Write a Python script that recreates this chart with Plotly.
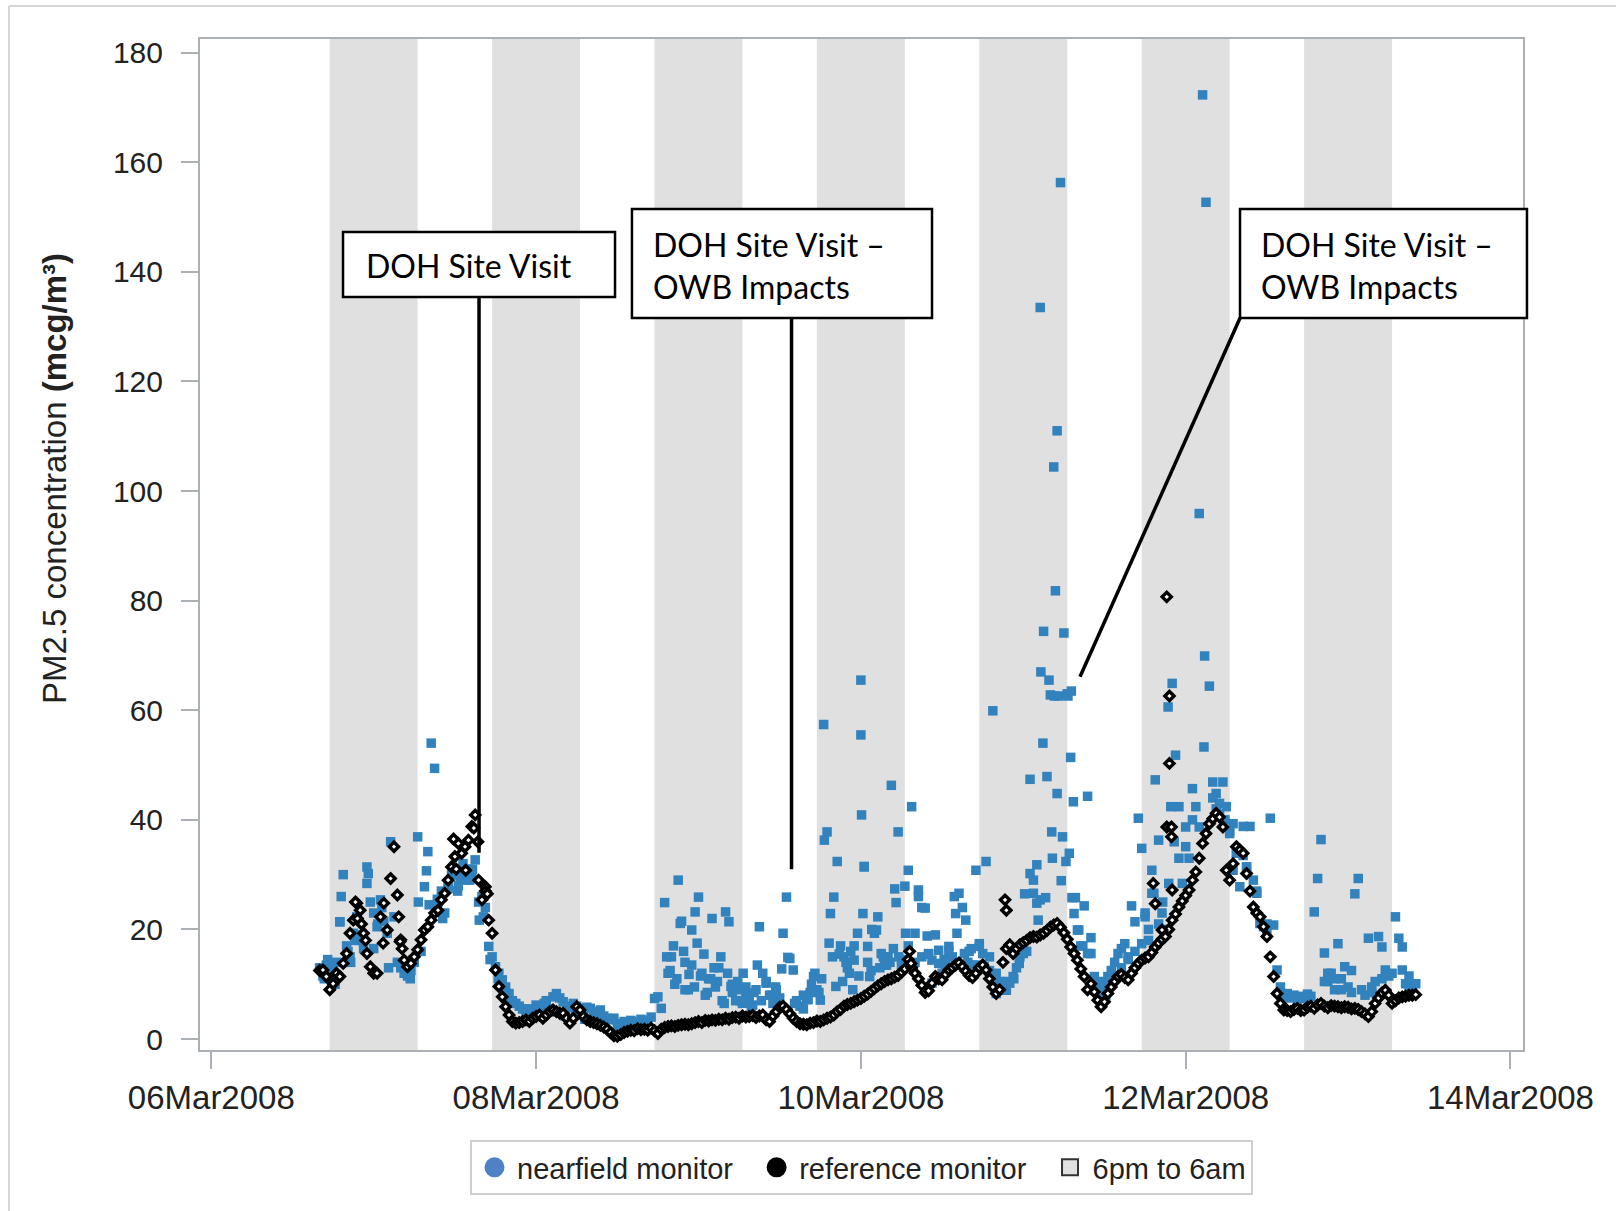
import plotly.graph_objects as go
import pandas as pd

# ---------------- data ----------------
series_start = "2008-03-06 16:00"
step_minutes = 30

# reference monitor PM2.5 (mcg/m3), every 30 minutes from 06Mar2008 16:00
reference_pm25 = [
    12.5, 12.6, 11.4, 9.0, 10.1, 12.0, 11.4, 13.8, 15.6, 19.3,
    21.7, 24.8, 23.5, 19.3, 15.6, 13.2, 12.0, 12.0, 22.3, 24.8,
    19.9, 29.3, 35.1, 26.3, 18.1, 14.4, 13.2, 13.8, 15.0, 16.3,
    18.1, 19.9, 20.5, 21.7, 23.0, 23.5, 25.4, 26.6, 29.0, 31.4,
    33.3, 35.7, 33.9, 35.1, 36.3, 38.8, 40.9, 29.0, 25.4, 27.8,
    21.7, 19.3, 12.6, 9.6, 7.7, 5.9, 4.4, 3.2, 2.9, 3.0,
    3.2, 3.5, 3.2, 3.8, 4.1, 4.4, 3.8, 4.4, 5.0, 5.3,
    5.0, 4.7, 4.7, 3.8, 2.9, 3.8, 5.9, 5.3, 4.1, 3.5,
    3.2, 3.0, 2.8, 2.5, 2.2, 1.8, 1.2, 0.6, 0.5, 0.8,
    1.2, 1.4, 1.6, 1.5, 1.9, 1.7, 1.8, 1.6, 2.0, 1.5,
    1.0, 1.8, 2.1, 2.3, 2.4, 2.3, 2.5, 2.6, 2.7, 2.6,
    2.8, 3.0, 3.2, 3.0, 3.4, 3.3, 3.5, 3.4, 3.6, 3.5,
    3.8, 3.6, 3.9, 4.0, 3.8, 4.2, 4.0, 4.1, 4.3, 3.9,
    4.2, 4.4, 3.5, 3.2, 4.2, 5.0, 5.8, 6.0, 5.4, 4.6,
    3.8, 3.2, 2.8, 2.7, 2.6, 2.9, 3.0, 3.3, 3.2, 3.5,
    3.8, 4.0, 4.4, 5.0, 5.4, 6.0, 6.3, 6.5, 6.8, 7.1,
    7.4, 7.8, 8.2, 8.7, 9.2, 9.7, 10.1, 10.5, 10.8, 11.0,
    11.3, 11.6, 12.2, 12.8, 14.5, 13.0, 12.0, 11.0, 9.8, 8.5,
    8.8, 10.2, 11.4, 11.0, 10.8, 11.8, 12.6, 13.0, 13.5, 13.9,
    13.2, 12.4, 11.6, 11.2, 12.0, 13.0, 13.5, 12.6, 11.0, 9.5,
    8.3, 9.0, 14.0, 16.5, 17.2, 15.6, 16.5, 17.2, 17.6, 18.0,
    18.5, 18.7, 18.6, 19.0, 19.3, 19.8, 20.4, 20.8, 21.1, 20.4,
    19.4, 18.2, 16.8, 15.6, 14.4, 12.8, 11.4, 9.0, 10.1, 8.6,
    7.1, 5.9, 6.8, 8.3, 9.5, 10.5, 11.4, 11.8, 11.2, 10.8,
    12.0, 13.0, 13.8, 14.4, 14.8, 15.0, 15.8, 16.8, 17.5, 18.2,
    18.7, 20.0, 21.7, 22.8, 24.1, 25.2, 26.2, 27.2, 29.0, 30.5,
    33.0, 35.7, 37.5, 39.3, 40.2, 41.2, 40.5, 38.7, 30.8, 29.0,
    32.0, 35.1, 34.5, 33.9, 30.2, 27.0, 24.1, 23.0, 22.3, 20.5,
    18.7, 15.0, 11.4, 8.3, 6.5, 5.3, 5.2, 5.0, 5.4, 5.6,
    5.2, 5.3, 5.8, 6.0, 5.6, 6.2, 6.5, 6.0, 5.7, 6.1,
    6.0, 5.9, 5.7, 5.9, 5.8, 5.5, 5.6, 5.4, 5.0, 4.6,
    4.1, 5.0, 6.5, 7.5, 8.4, 8.9, 8.0, 6.5, 7.0, 7.5,
    7.7, 7.8, 8.0, 8.0, 8.1,
]

# nearfield monitor PM2.5 (mcg/m3), same 30-minute grid
nearfield_pm25 = [
    13, 11.5, 13.5, 12, 10.5, 14, 21.4, 30, 17, 15,
    19.3, 22.3, 18, 16.5, 31.4, 25, 23, 20.5, 25.4, 21.5,
    19.3, 36, 22.3, 14, 13, 12, 11.5, 12.5, 14, 36.9,
    16, 27.8, 34.2, 54, 49.4, 25, 27, 23, 28, 30,
    31, 28, 30.5, 29, 31, 30, 32.7, 25, 26, 24,
    16.9, 15, 13.2, 12, 10.8, 9.5, 8.3, 7, 6.5, 6,
    5.5, 5.2, 4.8, 5.5, 6.2, 5.5, 6, 7, 5.5, 7.7,
    8.3, 7.5, 6.8, 6, 5.8, 6.5, 6, 5.6, 5.2, 5.8,
    5.6, 5.0, 4.5, 5.3, 4.2, 3.8, 3.5, 3.8, 2.5, 2.8,
    3.2, 3.0, 3.4, 3.2, 3.0, 3.6, 3.2, 3.4, 4.0, 7.4,
    7.7, 5.6, 24.9, 12, 15, 10, 29, 21.5, 14, 9,
    19.9, 23.2, 25.9, 12, 8, 11, 22, 9.5, 13, 7,
    23.2, 21.4, 10, 7, 9, 6.5, 8, 7.5, 6.2, 9,
    20.5, 12, 10.2, 8, 6.5, 9, 7.5, 19.3, 25.9, 14.7,
    12.6, 7, 6, 5.5, 7.2, 8.5, 11.4, 9, 7.1, 57.4,
    37.8, 22.9, 25.9, 32.4, 17, 15, 13, 16, 14.4, 19.3,
    65.5, 31.4, 14, 12.5, 19.3, 22.3, 15.6, 13.5, 15, 46.3,
    27.4, 37.8, 14.5, 27.9, 30.8, 42.4, 19.3, 27.2, 15, 23.9,
    15.6, 14.4, 19, 16.2, 12, 13.5, 16.9, 15, 22.9, 26.6,
    24, 21.7, 16, 13.5, 30.8, 17.4, 15.6, 32.4, 15, 59.9,
    12, 10.5, 9, 8.9, 10.2, 11.4, 13, 15, 15.6, 16,
    30.2, 26.6, 31.8, 133.5, 74.4, 47.9, 62.8, 104.4, 111, 156.3,
    74.1, 63, 51.4, 22.9, 19.9, 17, 24.3, 44.3, 15.6, 11.4,
    9.5, 8.3, 10, 11.4, 12.5, 14, 15.6, 16.5, 17.4, 15,
    24.3, 21.4, 40.3, 34.8, 22.3, 18, 26.6, 47.3, 36.3, 23,
    20, 28.4, 64.9, 51.8, 42.4, 28.4, 35.1, 33, 45.7, 42.4,
    95.9, 172.3, 152.7, 64.4, 46.9, 44.8, 43, 46.9, 42.4, 37.5,
    39.3, 33.9, 27.8, 33.5, 31.4, 38.8, 29, 27, 21.1, 20.5,
    21, 40.3, 20.8, 12.6, 9.5, 7.7, 8.3, 7.5, 8, 7.1,
    7.8, 7.4, 8.2, 7.8, 23.2, 29.3, 36.4, 15.7, 10.5, 12,
    9, 17.4, 11, 13.2, 9.5, 8.5, 26.5, 29.3, 9, 8,
    18.4, 9.5, 10.5, 18.7, 16.8, 12.6, 11.5, 12, 22.3, 18.4,
    16.8, 10.1, 9.8, 9.5, 10.1,
]

# additional (off-grid) nearfield readings: (hours after series start, PM2.5)
nearfield_extra = [
    (0.7, 11.0), (1.2, 14.5), (3.0, 21.4), (3.2, 26.0), (4.2, 16.0), (5.2, 18.0),
    (7.0, 28.4), (7.2, 30.2), (8.6, 21.0), (9.2, 24.0), (14.6, 25.0), (15.8, 30.7),
    (16.2, 24.5), (17.4, 25.5), (18.2, 22.0), (19.6, 30.0), (20.4, 27.0), (21.2, 32.0),
    (22.2, 29.0), (23.6, 21.7), (24.2, 22.3), (25.2, 14.5), (26.4, 11.0),
    (1.8, 12.8), (2.3, 10.0), (4.6, 14.0), (6.0, 19.0), (8.0, 16.5), (10.2, 13.0),
    (12.8, 12.5), (13.4, 11.0), (19.0, 27.5), (20.8, 29.5), (22.6, 31.0), (27.5, 7.5),
    (30.3, 5.5), (33.2, 6.5), (36.3, 4.2), (37.8, 5.0), (39.2, 3.6),
    (51.3, 15.0), (52.3, 17.0), (52.8, 11.0), (53.3, 21.1), (54.0, 9.0), (55.0, 13.5),
    (55.8, 17.5), (56.3, 11.5), (56.8, 15.5), (57.3, 8.5), (58.3, 13.0), (58.8, 10.5),
    (59.3, 15.0), (59.8, 6.5), (60.3, 12.0), (61.0, 8.5), (61.8, 10.5), (62.2, 7.0),
    (63.0, 9.5), (63.8, 6.0), (64.7, 13.5), (66.0, 10.5), (66.8, 8.0), (68.3, 12.8),
    (69.2, 14.9), (70.2, 6.5), (72.7, 10.0), (73.2, 12.0), (73.8, 8.5), (74.6, 36.3),
    (75.3, 17.5), (75.8, 15.0), (76.3, 9.6), (76.8, 15.5), (77.8, 14.0), (78.3, 12.0),
    (79.0, 17.0), (79.7, 11.5), (80.0, 55.5), (80.1, 40.9), (80.3, 22.9), (80.5, 31.5),
    (51.8, 12.5), (53.8, 16.0), (54.6, 11.8), (55.4, 9.5), (57.8, 11.0), (60.8, 9.6),
    (62.6, 12.0), (64.2, 8.5), (65.3, 7.0), (67.4, 9.5), (71.5, 8.0), (72.2, 7.2),
    (74.2, 11.0), (77.3, 10.5), (78.8, 9.0),
    (81.0, 16.9), (81.3, 11.4), (81.6, 20.0), (82.3, 19.9), (83.3, 15.0), (83.8, 13.5),
    (84.3, 14.0), (85.2, 24.9), (85.6, 15.0), (86.0, 13.2), (86.6, 19.3), (87.0, 17.0),
    (88.5, 26.0), (89.0, 24.0), (89.8, 18.8), (90.5, 10.2), (91.5, 13.8), (93.8, 26.0),
    (94.2, 19.3), (95.3, 15.6), (96.3, 16.5), (97.5, 16.9), (98.2, 13.2), (100.0, 8.3),
    (101.6, 10.5), (82.8, 13.0), (84.8, 16.5), (88.0, 14.0), (90.0, 15.5), (92.3, 14.5),
    (93.0, 16.0), (95.8, 14.0), (97.0, 13.5), (99.0, 12.5), (100.6, 9.2), (102.6, 11.0),
    (103.4, 13.8),
    (104.2, 26.5), (105.0, 47.4), (105.5, 29.0), (106.0, 24.8), (106.2, 21.7), (106.5, 25.4),
    (106.6, 67.0), (106.9, 54.0), (107.3, 25.8), (107.8, 65.5), (108.2, 37.8), (108.3, 33.0),
    (108.6, 62.6), (108.75, 81.8), (109.0, 44.8), (109.2, 62.6), (109.6, 28.9), (109.8, 36.9),
    (110.3, 32.4), (110.6, 62.6), (110.8, 33.9), (111.1, 63.5), (111.2, 25.8), (111.4, 43.3),
    (111.7, 25.8), (112.2, 19.9), (112.8, 17.0), (113.5, 15.6), (114.0, 18.5),
    (115.3, 10.5), (116.2, 8.0), (117.5, 11.5), (118.5, 13.0), (119.5, 14.5), (120.5, 16.0),
    (121.5, 17.4), (122.0, 23.0), (122.5, 20.0), (123.0, 30.8), (123.3, 26.6), (124.0, 21.0),
    (124.6, 25.0), (125.4, 60.6), (125.8, 42.4), (126.3, 36.0), (127.0, 33.0), (128.0, 38.7),
    (129.0, 40.0), (130.0, 38.7), (130.7, 53.3), (130.8, 69.9), (132.0, 44.0), (132.5, 42.0),
    (133.0, 41.0), (133.8, 40.0), (134.5, 38.0), (135.0, 30.8), (135.5, 33.9), (136.5, 38.8),
    (137.0, 31.4), (138.5, 26.6), (139.0, 21.1), (140.0, 20.0),
    (148.5, 10.5), (149.0, 12.0), (150.0, 11.0), (151.0, 9.0), (152.5, 12.5), (155.5, 8.5),
    (157.0, 11.0), (160.0, 12.6), (161.0, 11.5),
]

# additional (off-grid) reference readings: (hours after series start, PM2.5)
reference_extra = [
    (5.3, 25.0), (5.6, 22.0), (6.2, 21.0), (6.8, 18.0), (9.4, 17.5), (11.7, 22.3),
    (11.9, 17.8), (12.2, 16.5), (19.8, 36.5), (20.2, 31.0), (21.6, 30.8), (22.8, 38.5),
    (23.4, 36.0), (24.5, 27.0), (24.8, 26.5), (87.2, 16.0), (87.4, 13.8), (101.3, 25.4),
    (101.5, 23.5), (123.2, 28.4), (123.5, 24.7), (124.5, 19.9), (125.2, 80.7), (125.2, 38.7),
    (125.6, 62.6), (125.6, 50.3), (125.9, 38.7), (125.9, 36.9), (126.0, 27.2),
]

# nights (6pm to 6am) centred on midnight
night_centers = ["2008-03-07", "2008-03-08", "2008-03-09", "2008-03-10",
                 "2008-03-11", "2008-03-12", "2008-03-13"]

tick_dates = ["2008-03-06", "2008-03-08", "2008-03-10", "2008-03-12", "2008-03-14"]
tick_labels = ["06Mar2008", "08Mar2008", "10Mar2008", "12Mar2008", "14Mar2008"]
y_ticks = [0, 20, 40, 60, 80, 100, 120, 140, 160, 180]

# ---------------- build ----------------
t0 = pd.Timestamp(series_start)
grid_ref = [t0 + pd.Timedelta(minutes=step_minutes * k) for k in range(len(reference_pm25))]
grid_near = [t0 + pd.Timedelta(minutes=step_minutes * k) for k in range(len(nearfield_pm25))]

near_x = grid_near + [t0 + pd.Timedelta(hours=h) for h, _ in nearfield_extra]
near_y = list(nearfield_pm25) + [v for _, v in nearfield_extra]
ref_x = grid_ref + [t0 + pd.Timedelta(hours=h) for h, _ in reference_extra]
ref_y = list(reference_pm25) + [v for _, v in reference_extra]

BASE_FONT = "Liberation Sans, Arial, sans-serif"
AXIS_COL = "#aab0b6"
PAD = "\u00a0\u00a0"

fig = go.Figure()

fig.add_trace(go.Bar(
    x=pd.to_datetime(night_centers), y=[200] * len(night_centers), base=-10,
    width=13 * 3600 * 1000, marker=dict(color="#e0e0e0", line=dict(width=0)),
    showlegend=False, hoverinfo="skip",
))

fig.add_trace(go.Scatter(
    x=near_x, y=near_y, mode="markers", name="nearfield monitor", showlegend=False,
    marker=dict(symbol="square", size=9.5, color="#3182bd", line=dict(width=0)),
))

fig.add_trace(go.Scatter(
    x=ref_x, y=ref_y, mode="markers", name="reference monitor", showlegend=False,
    marker=dict(symbol="diamond", size=7, color="white", line=dict(color="black", width=3.4)),
))

# legend-only entries
fig.add_trace(go.Scatter(x=[None], y=[None], mode="markers", name="nearfield monitor" + PAD,
                         marker=dict(symbol="circle", size=16, color="#4f81c7",
                                     line=dict(color="#4f81c7", width=4))))
fig.add_trace(go.Scatter(x=[None], y=[None], mode="markers", name="reference monitor" + PAD,
                         marker=dict(symbol="circle", size=16, color="black",
                                     line=dict(color="black", width=4))))
fig.add_trace(go.Scatter(x=[None], y=[None], mode="markers", name="6pm to 6am",
                         marker=dict(symbol="square", size=16, color="#e0e0e0",
                                     line=dict(color="#333333", width=2))))

fig.update_layout(
    width=1616, height=1211,
    margin=dict(l=200, r=93, t=39, b=161),
    paper_bgcolor="white", plot_bgcolor="white",
    barmode="overlay",
    font=dict(family=BASE_FONT, color="#222222"),
    showlegend=True,
    legend=dict(
        orientation="h", x=0.5, xanchor="center", y=-0.089, yanchor="top",
        bordercolor="#cfcfcf", borderwidth=2, font=dict(size=29, family=BASE_FONT),
        itemsizing="trace", itemwidth=35,
    ),
    xaxis=dict(
        type="date",
        range=["2008-03-05 22:19:50", "2008-03-14 01:51:00"],
        tickvals=pd.to_datetime(tick_dates), ticktext=tick_labels,
        ticks="outside", ticklen=17, tickwidth=2, tickcolor=AXIS_COL,
        showline=True, linecolor=AXIS_COL, linewidth=2, mirror=True,
        showgrid=False, zeroline=False,
        tickfont=dict(size=33, family=BASE_FONT, color="#222222"),
        ticklabelstandoff=0,
    ),
    yaxis=dict(
        range=[-2.0, 182.5], tickvals=y_ticks,
        ticks="outside", ticklen=17, tickwidth=2, tickcolor=AXIS_COL,
        showline=True, linecolor=AXIS_COL, linewidth=2, mirror=True,
        showgrid=False, zeroline=False,
        tickfont=dict(size=30, family=BASE_FONT, color="#222222"),
        ticklabelstandoff=12,
    ),
)

# y-axis title
fig.add_annotation(
    text="PM2.5 concentration <b>(mcg/m³)</b>", textangle=-90,
    xref="paper", yref="paper", x=-0.1095, y=0.5648, xanchor="center", yanchor="middle",
    showarrow=False, font=dict(size=33, family=BASE_FONT, color="#222222"),
)

# callout boxes
ANN_FONT = dict(size=32, family="Lato, Open Sans, sans-serif", color="black")
boxes = [
    (0.1081, 0.3137, 0.7448, 0.8091),
    (0.3265, 0.5533, 0.7240, 0.8318),
    (0.7861, 1.0030, 0.7240, 0.8318),
]
for (x0, x1, y0, y1) in boxes:
    fig.add_shape(type="rect", xref="paper", yref="paper", x0=x0, x1=x1, y0=y0, y1=y1,
                  fillcolor="white", line=dict(color="black", width=2.5), layer="above")

fig.add_annotation(text="DOH Site Visit", xref="paper", yref="paper", x=0.1240, y=0.7755,
                   xanchor="left", yanchor="middle", showarrow=False, align="left", font=ANN_FONT)
fig.add_annotation(text="DOH Site Visit –<br>OWB Impacts", xref="paper", yref="paper",
                   x=0.3409, y=0.7760, xanchor="left", yanchor="middle", showarrow=False,
                   align="left", font=ANN_FONT)
fig.add_annotation(text="DOH Site Visit –<br>OWB Impacts", xref="paper", yref="paper",
                   x=0.8005, y=0.7760, xanchor="left", yanchor="middle", showarrow=False,
                   align="left", font=ANN_FONT)

# callout lines
callouts = [
    ("2008-03-07 15:34", 135.4, "2008-03-07 15:34", 34.0),
    ("2008-03-09 13:45", 131.6, "2008-03-09 13:45", 31.0),
    ("2008-03-12 08:02", 131.6, "2008-03-11 08:23", 66.1),
]
for (xa, ya, xb, yb) in callouts:
    fig.add_shape(type="line", xref="x", yref="y", x0=xa, y0=ya, x1=xb, y1=yb,
                  line=dict(color="black", width=3.5), layer="above")

# outer image border (left and top)
fig.add_shape(type="line", xref="paper", yref="paper", x0=-0.1444, x1=-0.1444, y0=-0.2, y1=1.0326,
              line=dict(color="#d6d6d6", width=2))
fig.add_shape(type="line", xref="paper", yref="paper", x0=-0.1444, x1=1.1, y0=1.0326, y1=1.0326,
              line=dict(color="#d6d6d6", width=2))

fig.write_html("out.html")
